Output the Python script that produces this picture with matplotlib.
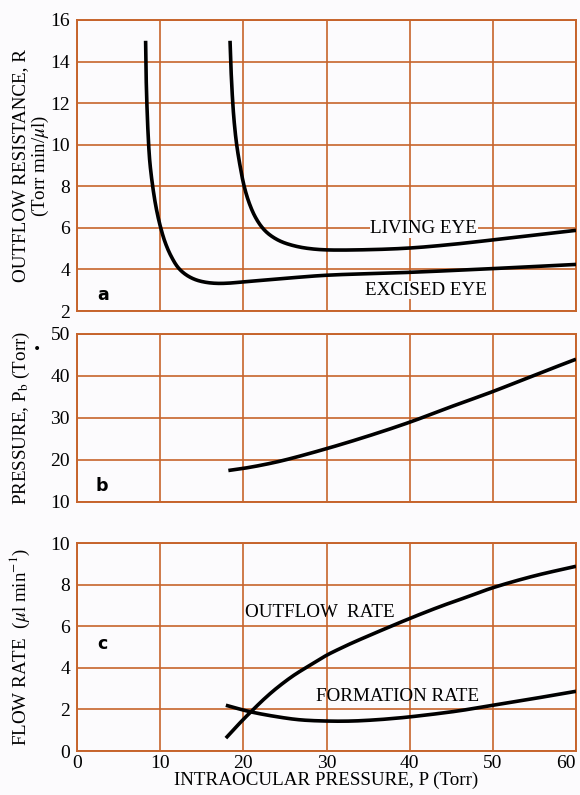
import matplotlib.pyplot as plt
import numpy as np

plt.rcParams['font.family'] = ['Liberation Serif', 'DejaVu Serif']
plt.rcParams['mathtext.fontset'] = 'stix'

GRID = '#c6642c'
BG = '#fcfbfd'

# (a) outflow resistance, Torr min/ul
excised_p = [8.25, 8.3, 8.4, 8.55, 8.75, 9.1, 9.5, 10.0, 10.6, 11.3, 12.2, 13.2, 14.3, 15.5,
             16.8, 18.2, 20, 25, 30, 40, 50, 60]
excised_r = [15.0, 13.5, 12.0, 10.5, 9.2, 8.0, 7.0, 6.1, 5.3, 4.65, 4.07, 3.72, 3.5, 3.38,
             3.33, 3.34, 3.4, 3.57, 3.72, 3.86, 4.04, 4.24]
living_p = [18.4, 18.5, 18.7, 18.9, 19.2, 19.6, 20.1, 20.7, 21.4, 22.2, 23.0, 24.0, 25.0,
            26.5, 28, 30, 35, 40, 45, 50, 55, 60]
living_r = [15.0, 13.8, 12.2, 11.1, 10.0, 9.0, 8.0, 7.2, 6.55, 6.05, 5.72, 5.45, 5.27,
            5.1, 5.0, 4.94, 4.95, 5.03, 5.2, 5.42, 5.65, 5.88]

# (b) pressure Pb, Torr
pb_p = [18.2, 20, 22.5, 25, 30, 35, 40, 45, 50, 55, 60]
pb_v = [17.5, 18.0, 18.9, 20.0, 22.7, 25.7, 29.0, 32.7, 36.3, 40.2, 44.0]

# (c) flow rates, ul/min
outflow_p = [17.9, 19, 20, 21, 22.5, 24, 26, 28, 30, 31.5, 33, 36, 40, 43.7, 47, 50, 55, 60]
outflow_v = [0.62, 1.1, 1.52, 1.92, 2.5, 3.02, 3.62, 4.12, 4.6, 4.9, 5.18, 5.7, 6.37,
             6.95, 7.42, 7.85, 8.42, 8.88]
formation_p = [17.9, 20.8, 24, 26.8, 30, 33, 36, 37.6, 40, 45.7, 50, 54.9, 60]
formation_v = [2.2, 1.89, 1.65, 1.5, 1.44, 1.44, 1.5, 1.55, 1.64, 1.92, 2.2, 2.52, 2.87]


def smooth(x, y, yspan, n=24):
    # centripetal Catmull-Rom through the read points, distances in axes units
    pts = np.column_stack([np.asarray(x, float) / 60.0, np.asarray(y, float) / yspan])
    pts = np.vstack([2 * pts[0] - pts[1], pts, 2 * pts[-1] - pts[-2]])
    out = []
    for i in range(1, len(pts) - 2):
        p0, p1, p2, p3 = pts[i - 1:i + 3]
        t0 = 0.0
        t1 = t0 + np.linalg.norm(p1 - p0) ** 0.5
        t2 = t1 + np.linalg.norm(p2 - p1) ** 0.5
        t3 = t2 + np.linalg.norm(p3 - p2) ** 0.5
        t = np.linspace(t1, t2, n, endpoint=False)[:, None]
        a1 = (t1 - t) / (t1 - t0) * p0 + (t - t0) / (t1 - t0) * p1
        a2 = (t2 - t) / (t2 - t1) * p1 + (t - t1) / (t2 - t1) * p2
        a3 = (t3 - t) / (t3 - t2) * p2 + (t - t2) / (t3 - t2) * p3
        b1 = (t2 - t) / (t2 - t0) * a1 + (t - t0) / (t2 - t0) * a2
        b2 = (t3 - t) / (t3 - t1) * a2 + (t - t1) / (t3 - t1) * a3
        out.append((t2 - t) / (t2 - t1) * b1 + (t - t1) / (t2 - t1) * b2)
    out.append(pts[-2][None, :])
    out = np.vstack(out)
    return out[:, 0] * 60.0, out[:, 1] * yspan


fig = plt.figure(figsize=(5.8, 7.95), dpi=100, facecolor=BG)
W = 580.0
H = 795.0


def make_axes(top, bottom, ylim, step):
    ax = fig.add_axes([77 / W, 1 - bottom / H, 499 / W, (bottom - top) / H])
    ax.set_facecolor(BG)
    ax.set_xlim(0, 60)
    ax.set_ylim(*ylim)
    ax.set_xticks(np.arange(0, 61, 10))
    ax.set_yticks(np.arange(ylim[0], ylim[1] + 0.1, step))
    ax.grid(True, color=GRID, lw=1.2)
    for s in ax.spines.values():
        s.set_color(GRID)
        s.set_linewidth(1.4)
    ax.tick_params(length=0, labelsize=14, pad=5)
    return ax


line_kw = dict(color='black', lw=2.6, solid_capstyle='butt', zorder=3)
fs = 13.7
box = dict(facecolor=BG, edgecolor='none', pad=0.4)

ax1 = make_axes(20, 311, (2, 16), 2)
ax1.plot(*smooth(excised_p, excised_r, 14), **line_kw)
ax1.plot(*smooth(living_p, living_r, 14), **line_kw)
ax1.tick_params(labelbottom=False)
ax1.set_ylabel('OUTFLOW RESISTANCE, R\n(Torr min/$\\mu$l)', fontsize=fs, linespacing=1.05)
ax1.yaxis.set_label_coords(-0.053, 0.5)
ax1.text(41.7, 5.95, 'LIVING EYE', ha='center', va='center', fontsize=fs, bbox=box, zorder=4)
ax1.text(41.9, 3.0, 'EXCISED EYE', ha='center', va='center', fontsize=fs, bbox=box, zorder=4)
ax1.text(3.1, 2.75, 'a', ha='center', va='center', fontsize=12.5, fontweight='bold',
         family='DejaVu Sans')

ax2 = make_axes(334, 502, (10, 50), 10)
ax2.plot(*smooth(pb_p, pb_v, 40), **line_kw)
ax2.tick_params(labelbottom=False)
ax2.set_ylabel('PRESSURE, P$_{\\rm b}$ (Torr)', fontsize=fs)
ax2.yaxis.set_label_coords(-0.09, 0.5)
ax2.text(3.0, 13.8, 'b', ha='center', va='center', fontsize=12.5, fontweight='bold',
         family='DejaVu Sans')
fig.text(37 / W, 1 - 349 / H, '\u2022', ha='center', va='center', fontsize=10,
         family='DejaVu Sans')

ax3 = make_axes(543, 751, (0, 10), 2)
ax3.plot(*smooth(outflow_p, outflow_v, 10), **line_kw)
ax3.plot(*smooth(formation_p, formation_v, 10), **line_kw)
ax3.set_ylabel('FLOW RATE  ($\\mu$l min$^{-1}$)', fontsize=fs)
ax3.yaxis.set_label_coords(-0.09, 0.5)
ax3.set_xlabel('INTRAOCULAR PRESSURE, P (Torr)', fontsize=fs, labelpad=0)
ax3.tick_params(axis='x', pad=3)
ax3.get_xticklabels()[-1].set_horizontalalignment('right')
ax3.text(29.2, 6.65, 'OUTFLOW  RATE', ha='center', va='center', fontsize=fs)
ax3.text(38.5, 2.63, 'FORMATION RATE', ha='center', va='center', fontsize=fs)
ax3.text(3.0, 5.13, 'c', ha='center', va='center', fontsize=12.5, fontweight='bold',
         family='DejaVu Sans')

fig.savefig('out.png', dpi=100, facecolor=BG)
